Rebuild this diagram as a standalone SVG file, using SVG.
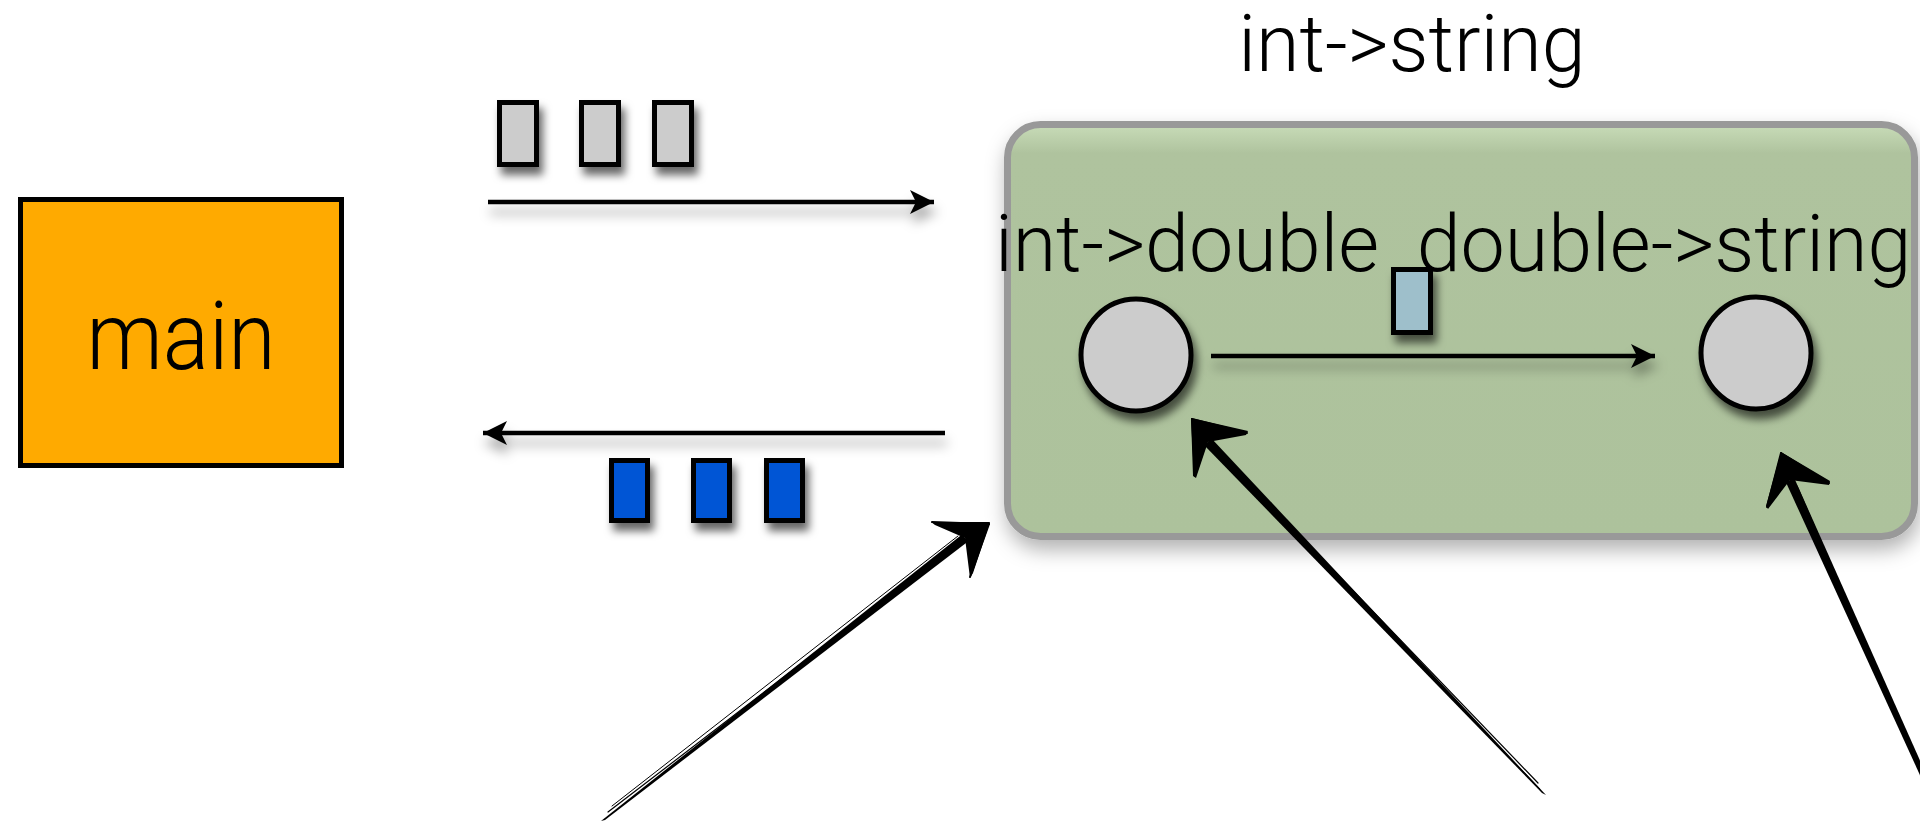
<svg xmlns="http://www.w3.org/2000/svg" width="1920" height="821" viewBox="0 0 1920 821">
  <defs>
    <filter id="sh" x="-50%" y="-50%" width="200%" height="200%">
      <feDropShadow dx="4" dy="8" stdDeviation="4" flood-color="#000" flood-opacity="0.6"/>
    </filter>
    <filter id="shl" filterUnits="userSpaceOnUse" x="0" y="0" width="1920" height="821">
      <feDropShadow dx="2" dy="10" stdDeviation="6" flood-color="#000" flood-opacity="0.35"/>
    </filter>
    <filter id="shb" x="-10%" y="-10%" width="120%" height="130%">
      <feDropShadow dx="2" dy="10" stdDeviation="10" flood-color="#000" flood-opacity="0.3"/>
    </filter>
    <linearGradient id="gg" x1="0" y1="0" x2="0" y2="1">
      <stop offset="0" stop-color="#c8dcb8"/>
      <stop offset="0.07" stop-color="#afc39e"/>
      <stop offset="1" stop-color="#adc29c"/>
    </linearGradient>
    <marker id="ah" viewBox="0 0 26 26" refX="24" refY="13" markerWidth="26" markerHeight="26" markerUnits="userSpaceOnUse" orient="auto">
      <path d="M24,13 L0,1 L6,13 L0,25 Z" fill="#000"/>
    </marker>
  </defs>
  <style>
    text { font-family: Roboto, "Liberation Sans", Arial, sans-serif; font-weight: 300; fill: #000; }
    .tok { stroke: #000; stroke-width: 5; }
    .gray { fill: #cccccc; }
    .blue { fill: #0055d5; }
    .conn { stroke: #000; stroke-width: 4.5; fill: none; }
    .sk { fill: #000; }
    .skl { stroke: #000; fill: none; stroke-linecap: round; }
  </style>

  <g id="main">
    <rect x="20.5" y="199.5" width="321" height="266" fill="#ffaa00" stroke="#000" stroke-width="5"/>
    <text x="181" y="369" font-size="94" text-anchor="middle" textLength="189" lengthAdjust="spacingAndGlyphs">main</text>
  </g>

  <g id="int-string">
    <rect x="1007.5" y="124.5" width="907" height="412" rx="33" ry="33" fill="url(#gg)" stroke="#999999" stroke-width="7" filter="url(#shb)"/>
    <text x="1412" y="71" font-size="79" text-anchor="middle">int-&gt;string</text>
  </g>

  <g id="int-double">
    <ellipse cx="1136" cy="355" rx="55" ry="56" fill="#cccccc" stroke="#000" stroke-width="5" filter="url(#sh)"/>
    <text x="1187" y="271" font-size="79" text-anchor="middle">int-&gt;double</text>
  </g>

  <g id="double-string">
    <ellipse cx="1756" cy="353" rx="55" ry="56" fill="#cccccc" stroke="#000" stroke-width="5" filter="url(#sh)"/>
    <text x="1664" y="271" font-size="79" text-anchor="middle">double-&gt;string</text>
  </g>

  <g id="tokens-in">
    <rect class="tok gray" x="499.5" y="102.5" width="37" height="62" filter="url(#sh)"/>
    <rect class="tok gray" x="581.5" y="102.5" width="37" height="62" filter="url(#sh)"/>
    <rect class="tok gray" x="654.5" y="102.5" width="37" height="62" filter="url(#sh)"/>
  </g>

  <g id="tokens-out">
    <rect class="tok blue" x="611.5" y="460.5" width="36" height="60" filter="url(#sh)"/>
    <rect class="tok blue" x="693.5" y="460.5" width="36" height="60" filter="url(#sh)"/>
    <rect class="tok blue" x="766.5" y="460.5" width="36" height="60" filter="url(#sh)"/>
  </g>

  <g id="token-mid">
    <rect class="tok" x="1393.5" y="269.5" width="37" height="63" fill="#9ebfcb" filter="url(#sh)"/>
  </g>

  <g id="connectors">
    <line class="conn" x1="488" y1="202" x2="934" y2="202" marker-end="url(#ah)" filter="url(#shl)"/>
    <line class="conn" x1="945" y1="433" x2="483" y2="433" marker-end="url(#ah)" filter="url(#shl)"/>
    <line class="conn" x1="1211" y1="356" x2="1655" y2="356" marker-end="url(#ah)" filter="url(#shl)"/>

    <!-- sketchy arrow 1 -->
    <polygon class="sk" points="601,821 605,820 968,541.5 962,534.5"/>
    <line class="skl" x1="608" y1="812" x2="960" y2="542" stroke-width="1.2"/>
    <line class="skl" x1="612" y1="806" x2="958" y2="536" stroke-width="1"/>
    <polygon class="sk" points="990,522 931,522 935,525 965,538 970,578 973,573"/>
    <line class="skl" x1="932" y1="522" x2="989" y2="524" stroke-width="2"/>
    <line class="skl" x1="989" y1="524" x2="970" y2="577" stroke-width="2"/>

    <!-- sketchy arrow 2 -->
    <polygon class="sk" points="1546,795 1542,793 1204.5,445.5 1211.5,438.5"/>
    <line class="skl" x1="1538" y1="783" x2="1214" y2="446" stroke-width="1.2"/>
    <line class="skl" x1="1540" y1="789" x2="1204" y2="440" stroke-width="1"/>
    <polygon class="sk" points="1191,418 1248,431 1246,435 1208,442 1196,478 1193,476"/>
    <line class="skl" x1="1192" y1="419" x2="1247" y2="433" stroke-width="2"/>
    <line class="skl" x1="1192" y1="419" x2="1195" y2="476" stroke-width="2"/>

    <!-- sketchy arrow 3 -->
    <polygon class="sk" points="1947,821 1941,821 1785.8,482 1794.2,478"/>
    <line class="skl" x1="1928" y1="790" x2="1797" y2="486" stroke-width="1.2"/>
    <polygon class="sk" points="1781,452 1830,481 1829,485 1790,480 1768,509 1766,506"/>
    <line class="skl" x1="1781" y1="453" x2="1829" y2="483" stroke-width="2"/>
    <line class="skl" x1="1781" y1="453" x2="1767" y2="507" stroke-width="2"/>
  </g>
</svg>
